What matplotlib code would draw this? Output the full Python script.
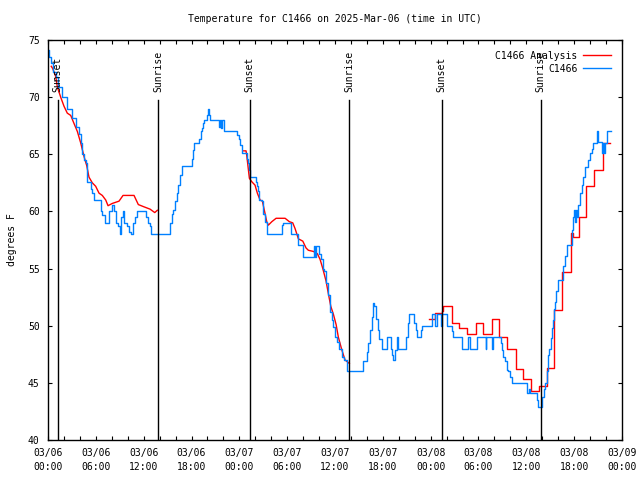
import numpy as np
import matplotlib
matplotlib.use("Agg")
import matplotlib.pyplot as plt
from matplotlib.ticker import MultipleLocator

# hours since 2025-03-06 00:00 UTC
obs_t = [0.00, 0.13, 0.41, 0.66, 0.97, 1.25, 1.79, 2.42, 3.05, 3.48, 3.89, 4.10, 4.30, 4.52, 4.73,
         4.93, 5.36, 5.56, 5.77, 6.61, 6.81, 7.11, 7.65, 8.07, 8.22, 8.49, 8.78, 9.03, 9.20, 9.37,
         9.54, 9.87, 10.16, 10.45, 10.63, 10.88, 11.13, 12.26, 12.55, 12.80, 12.89, 15.31, 15.52,
         15.72, 15.93, 16.15, 16.35, 16.56, 16.78, 16.85, 18.03, 18.23, 18.36, 18.98, 19.16, 19.36,
         19.49, 19.61, 19.91, 20.04, 20.11, 20.24, 20.33, 21.49, 21.62, 21.71, 21.83, 22.08, 23.75,
         23.96, 24.09, 24.30, 25.01, 25.13, 25.26, 25.35, 26.10, 26.26, 26.39, 26.51, 26.81, 27.01,
         27.23, 27.44, 27.52, 29.32, 29.45, 30.49, 31.41, 32.03, 33.38, 33.50, 33.63, 34.04, 34.22,
         34.47, 34.67, 34.88, 35.09, 35.38, 35.60, 35.80, 36.05, 36.30, 36.51, 36.85, 37.14, 37.48,
         37.55, 39.56, 39.99, 40.19, 40.40, 40.61, 40.82, 40.94, 41.15, 41.37, 41.57, 41.87, 42.50,
         43.00, 43.20, 43.32, 43.54, 43.75, 43.95, 44.92, 45.13, 45.33, 45.92, 46.17, 46.34, 46.76,
         46.89, 48.14, 48.56, 48.77, 49.31, 49.44, 50.10, 50.65, 50.85, 51.98, 52.70, 52.95, 53.86,
         54.92, 54.99, 55.75, 55.87, 56.80, 56.93, 57.13, 57.34, 57.55, 57.75, 57.97, 58.18, 60.14,
         60.35, 60.48, 61.32, 61.52, 62.02, 62.23, 62.36, 62.57, 62.77, 62.90, 63.07, 63.20, 63.40,
         63.53, 63.61, 63.74, 64.03, 64.66, 64.87, 65.08, 65.71, 65.91, 66.04, 66.12, 66.25, 66.37,
         66.54, 66.75, 66.96, 67.16, 67.38, 67.79, 68.00, 68.22, 68.42, 68.85, 68.97, 69.47, 69.67,
         69.76, 69.89, 70.10, 70.60]
obs_f = [74.1, 73.5, 73.0, 72.2, 71.8, 70.9, 70.0, 69.0, 68.2, 67.4, 66.8, 66.0, 65.0, 64.5, 64.2,
         62.6, 62.0, 61.6, 61.0, 60.0, 59.7, 59.0, 60.0, 60.6, 60.0, 59.0, 58.7, 58.0, 59.5, 60.0,
         59.0, 58.7, 58.2, 58.0, 59.0, 59.5, 60.0, 59.5, 59.0, 58.7, 58.0, 59.0, 59.8,
         60.1, 60.9, 61.6, 62.3, 63.2, 63.8, 64.0, 64.6, 65.4, 66.0, 66.3, 67.0, 67.3,
         67.7, 68.0, 68.4, 68.7, 69.0, 68.4, 68.0, 67.4, 68.0, 67.3, 68.0, 67.0, 66.7,
         66.3, 65.8, 65.1, 64.6, 64.2, 63.6, 63.0, 62.6, 62.2, 61.8, 61.0, 60.9, 59.8,
         59.1, 59.0, 58.0, 58.8, 59.0, 58.0, 57.1, 56.0, 57.0, 56.0, 57.0, 56.3, 55.8,
         55.0, 54.8, 53.7, 52.7, 51.2, 50.5, 49.9, 49.0, 48.6, 48.0, 47.3, 47.0, 46.9,
         46.0, 46.9, 47.7, 48.5, 49.6, 50.8, 52.0, 51.7, 50.6, 49.6, 48.8, 48.0, 49.0,
         48.0, 47.4, 47.0, 47.9, 49.0, 48.0, 49.0, 50.2, 51.0, 50.2, 49.6, 49.0, 49.6,
         50.0, 51.0, 50.0, 51.0, 50.0, 51.0, 50.0, 49.5, 49.0, 48.0, 49.0, 48.0, 49.0,
         48.0, 49.0, 48.0, 49.0, 48.5, 47.9, 47.3, 46.9, 46.1, 46.0, 45.5, 45.0, 44.1,
         44.5, 44.1, 43.5, 42.9, 43.8, 44.5, 45.0, 46.0, 47.4, 48.0, 48.9, 49.8, 50.5,
         51.5, 52.1, 53.0, 54.0, 55.2, 56.1, 57.1, 58.4, 59.5, 60.1, 59.1, 60.1, 59.5,
         60.6, 61.6, 62.3, 63.0, 63.9, 64.5, 65.1, 65.5, 66.0, 67.0, 66.1, 65.1, 66.0,
         65.1, 66.0, 67.0, 67.0]

# analysis, first two nights (smooth)
ana1_t = [0.41, 0.59, 0.97, 1.17, 1.59, 2.01, 2.42, 2.85, 3.26, 3.68, 4.10, 4.52, 4.86, 5.14, 5.56,
          5.98, 6.40, 6.81, 7.24, 7.53, 8.07, 8.49, 8.91, 9.41, 10.79, 11.33, 12.05, 12.80, 13.39, 13.71]
ana1_f = [72.7, 72.5, 71.8, 70.9, 70.0, 69.2, 68.6, 68.4, 67.7, 67.0, 66.0, 64.8, 64.0, 63.0, 62.5,
          62.2, 61.6, 61.4, 61.0, 60.5, 60.7, 60.8, 60.9, 61.4, 61.4, 60.6, 60.4, 60.2, 59.9, 60.1]
ana2_t = [24.50, 24.84, 24.93, 25.26, 25.56, 25.97, 26.26, 26.60, 26.89, 27.23, 27.44, 27.64, 28.07,
          28.61, 29.74, 30.28, 30.70, 30.99, 31.41, 31.96, 32.37, 32.66, 33.29, 33.79, 34.13, 34.47,
          34.88, 35.17, 35.47, 35.80, 36.14, 36.42, 36.85, 37.26, 37.80]
ana2_f = [65.3, 65.3, 64.9, 62.9, 62.6, 62.3, 61.6, 61.0, 60.9, 59.8, 59.1, 58.8, 59.1,
          59.4, 59.4, 59.1, 59.0, 58.5, 57.6, 57.4, 56.8, 56.6, 56.5, 56.3, 55.8, 55.0,
          53.9, 52.8, 51.7, 51.0, 50.1, 49.0, 47.9, 47.0, 46.7]
# analysis, third night (stepped)
ana3_t = [47.84, 48.56, 49.40, 49.60, 50.65, 51.61, 52.61, 53.66, 54.62, 55.67, 56.62, 57.63, 58.72,
          59.56, 60.56, 61.65, 62.57, 63.53, 64.53, 65.58, 65.83, 66.62, 67.50, 68.50, 69.61, 70.52]
ana3_f = [50.6, 51.1, 51.3, 51.7, 50.2, 49.8, 49.3, 50.2, 49.3, 50.6, 49.0, 48.0, 46.2,
          45.3, 44.3, 44.7, 46.3, 51.4, 54.7, 58.1, 57.8, 59.5, 62.2, 63.6, 66.0, 66.0]

sun_t = [1.2, 13.8, 25.3, 37.8, 49.4, 61.8]
sun_lbl = ["Sunset", "Sunrise", "Sunset", "Sunrise", "Sunset", "Sunrise"]

tick_hours = list(range(0, 73, 6))
tick_lbls = ["03/06\n00:00", "03/06\n06:00", "03/06\n12:00", "03/06\n18:00",
             "03/07\n00:00", "03/07\n06:00", "03/07\n12:00", "03/07\n18:00",
             "03/08\n00:00", "03/08\n06:00", "03/08\n12:00", "03/08\n18:00",
             "03/09\n00:00"]

plt.rcParams['font.family'] = ['DejaVu Sans Mono']
plt.rcParams['font.size'] = 7

fig = plt.figure(figsize=(6.4, 4.8), dpi=100)
ax = fig.add_axes([48/640, 40/480, 574/640, 400/480])

red = '#ff0000'
blue = '#0080ff'
ax.plot(ana1_t, ana1_f, color=red, lw=1.0, label='C1466 Analysis')
ax.plot(ana2_t, ana2_f, color=red, lw=1.0)
ax.plot(ana3_t, ana3_f, color=red, lw=1.0, drawstyle='steps-post')
ax.plot(obs_t, obs_f, color=blue, lw=1.0, drawstyle='steps-post', label='C1466')

for t, lbl in zip(sun_t, sun_lbl):
    ax.plot([t, t], [0, 0.85], color='black', lw=1.0, transform=ax.get_xaxis_transform())
    ax.text(t, 0.87, lbl, rotation=90, ha='center', va='bottom',
            transform=ax.get_xaxis_transform())

ax.set_xlim(0, 72)
ax.set_ylim(40, 75)
ax.set_xticks(tick_hours)
ax.set_xticklabels(tick_lbls, linespacing=1.5)
ax.xaxis.set_minor_locator(MultipleLocator(2))
ax.yaxis.set_major_locator(MultipleLocator(5))
ax.tick_params(which='both', direction='in', top=True, right=True, length=3, width=0.8)
ax.tick_params(axis='x', pad=6)
ax.tick_params(axis='y', pad=6)
for s in ax.spines.values():
    s.set_linewidth(1.0)

ax.set_ylabel('degrees F', labelpad=8)
ax.set_title('Temperature for C1466 on 2025-Mar-06 (time in UTC)', fontsize=7, pad=13)

ax.legend(loc='upper right', frameon=False, markerfirst=False, handlelength=2.9,
          handletextpad=0.6, labelspacing=0.3, borderaxespad=0.9, borderpad=0.2)

fig.savefig('out.png', dpi=100)
